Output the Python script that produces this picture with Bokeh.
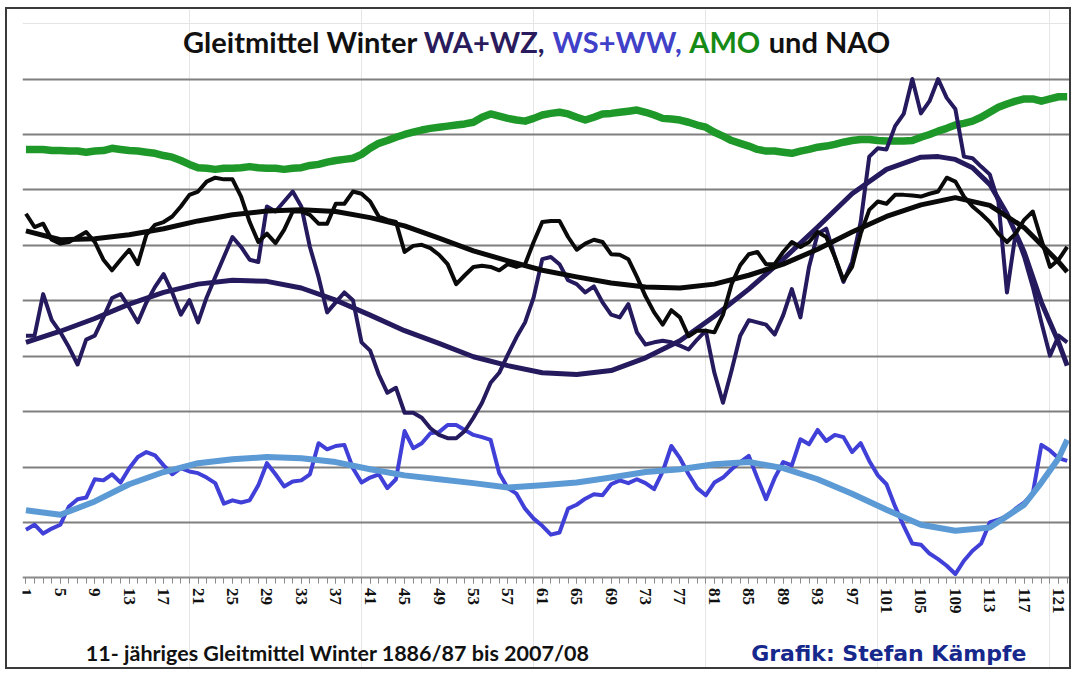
from bokeh.plotting import figure
from bokeh.models import Range1d, FixedTicker, Label, Grid, LinearAxis
from bokeh.embed import file_html
from bokeh.resources import INLINE

# ---------------- data ----------------
winters = list(range(1, 123))          # 11-year moving average index 1 .. 122
tick_values = list(range(1, 123, 4))   # labelled ticks 1, 5, ..., 121
grid_levels = [1, 2, 3, 4, 5, 6, 7, 8, 9]

amo = [7.73, 7.73, 7.73, 7.71, 7.71, 7.70, 7.70, 7.68, 7.70, 7.71,
       7.75, 7.73, 7.71, 7.70, 7.68, 7.66, 7.62, 7.59, 7.53, 7.46,
       7.40, 7.39, 7.37, 7.39, 7.39, 7.40, 7.42, 7.40, 7.39, 7.39,
       7.37, 7.39, 7.40, 7.44, 7.46, 7.50, 7.53, 7.55, 7.57, 7.64,
       7.75, 7.84, 7.89, 7.95, 8.00, 8.04, 8.08, 8.11, 8.13, 8.15,
       8.17, 8.19, 8.22, 8.31, 8.37, 8.33, 8.29, 8.26, 8.24, 8.29,
       8.35, 8.38, 8.40, 8.37, 8.31, 8.26, 8.31, 8.37, 8.38, 8.40,
       8.42, 8.44, 8.40, 8.35, 8.29, 8.28, 8.26, 8.22, 8.17, 8.13,
       8.04, 7.97, 7.89, 7.84, 7.79, 7.73, 7.70, 7.70, 7.68, 7.66,
       7.70, 7.73, 7.77, 7.79, 7.82, 7.86, 7.89, 7.91, 7.91, 7.89,
       7.88, 7.88, 7.88, 7.89, 7.95, 8.00, 8.06, 8.11, 8.17, 8.20,
       8.24, 8.31, 8.40, 8.49, 8.55, 8.60, 8.64, 8.64, 8.60, 8.64,
       8.68, 8.68]

nao = [6.57, 6.33, 6.39, 6.10, 6.03, 6.06, 6.15, 6.24, 6.06, 5.74,
       5.55, 5.74, 5.92, 5.66, 6.19, 6.37, 6.42, 6.52, 6.70, 6.91,
       6.97, 7.15, 7.22, 7.19, 7.19, 6.88, 6.42, 6.06, 6.21, 6.04,
       6.28, 6.61, 6.61, 6.55, 6.39, 6.39, 6.75, 6.75, 6.97, 6.93,
       6.79, 6.52, 6.46, 6.42, 5.88, 5.99, 6.01, 5.95, 5.83, 5.66,
       5.30, 5.46, 5.61, 5.63, 5.61, 5.55, 5.66, 5.61, 5.66, 6.06,
       6.42, 6.44, 6.44, 6.15, 5.92, 6.03, 6.10, 6.06, 5.84, 5.83,
       5.75, 5.43, 5.08, 4.79, 4.57, 4.83, 4.70, 4.36, 4.46, 4.46,
       4.43, 4.75, 5.30, 5.64, 5.84, 5.88, 5.66, 5.66, 5.88, 6.06,
       5.97, 6.06, 6.24, 6.15, 5.79, 5.37, 5.61, 6.21, 6.64, 6.79,
       6.75, 6.91, 6.91, 6.90, 6.88, 6.93, 6.97, 7.22, 7.15, 6.88,
       6.70, 6.57, 6.42, 6.21, 6.06, 6.21, 6.46, 6.61, 6.10, 5.61,
       5.74, 5.97]

wa_wz = [4.37, 4.37, 5.12, 4.65, 4.43, 4.16, 3.85, 4.30, 4.37, 4.70,
         5.05, 5.12, 4.88, 4.61, 4.97, 5.25, 5.48, 5.15, 4.75, 5.01,
         4.61, 5.06, 5.43, 5.79, 6.15, 5.97, 5.74, 5.70, 6.70, 6.61,
         6.79, 6.97, 6.70, 5.97, 5.43, 4.79, 4.97, 5.15, 5.01, 4.25,
         4.10, 3.67, 3.34, 3.43, 2.98, 2.98, 2.89, 2.70, 2.58, 2.52,
         2.52, 2.65, 2.89, 3.16, 3.52, 3.70, 4.03, 4.34, 4.61, 5.06,
         5.75, 5.79, 5.66, 5.37, 5.30, 5.15, 5.26, 4.97, 4.75, 4.70,
         4.94, 4.43, 4.21, 4.25, 4.28, 4.25, 4.19, 4.12, 4.30, 4.46,
         3.70, 3.16, 3.74, 4.37, 4.65, 4.61, 4.57, 4.39, 4.74, 5.21,
         4.70, 5.61, 6.21, 6.30, 5.79, 5.34, 5.70, 6.42, 7.60, 7.75,
         7.73, 8.15, 8.37, 9.00, 8.38, 8.60, 9.00, 8.66, 8.46, 7.60,
         7.57, 7.42, 7.28, 6.79, 5.15, 6.21, 5.79, 5.25, 4.61, 4.01,
         4.37, 4.25]

ws_ww = [0.87, 0.96, 0.80, 0.89, 0.96, 1.29, 1.42, 1.45, 1.78, 1.76,
         1.87, 1.72, 1.98, 2.18, 2.27, 2.21, 2.03, 1.87, 1.98, 1.92,
         1.89, 1.81, 1.71, 1.34, 1.40, 1.36, 1.40, 1.67, 2.07, 1.87,
         1.65, 1.74, 1.76, 1.87, 2.43, 2.32, 2.38, 2.40, 1.98, 1.72,
         1.81, 1.87, 1.62, 1.78, 2.65, 2.34, 2.43, 2.61, 2.63, 2.76,
         2.76, 2.67, 2.58, 2.54, 2.49, 1.89, 1.62, 1.52, 1.25, 1.07,
         0.94, 0.78, 0.82, 1.25, 1.32, 1.43, 1.51, 1.49, 1.69, 1.76,
         1.71, 1.78, 1.71, 1.60, 1.92, 2.38, 2.16, 1.87, 1.62, 1.49,
         1.72, 1.81, 1.96, 2.09, 2.20, 1.80, 1.42, 1.80, 2.09, 2.03,
         2.50, 2.41, 2.67, 2.47, 2.58, 2.54, 2.27, 2.43, 2.11, 1.85,
         1.69, 1.29, 0.94, 0.62, 0.60, 0.44, 0.34, 0.22, 0.07, 0.31,
         0.49, 0.62, 1.00, 1.05, 1.11, 1.25, 1.36, 1.52, 2.40, 2.30,
         2.16, 2.11]

# polynomial trend curves
nao_trend_x = list(range(1, 122, 4)) + [122]
nao_trend = [6.26, 6.10, 6.12, 6.19, 6.30, 6.44, 6.55, 6.62, 6.64, 6.61,
             6.50, 6.35, 6.13, 5.90, 5.72, 5.55, 5.43, 5.32, 5.25, 5.23,
             5.30, 5.46, 5.66, 5.93, 6.24, 6.52, 6.73, 6.86, 6.72, 6.32,
             5.70, 5.52]

wa_wz_trend_x = list(range(1, 106, 4)) + [107, 109, 111, 113, 115, 117, 119, 121, 122]
wa_wz_trend = [4.25, 4.45, 4.68, 4.94, 5.15, 5.30, 5.37, 5.35, 5.23, 5.01,
               4.74, 4.46, 4.23, 3.99, 3.83, 3.70, 3.67, 3.74, 3.97, 4.28,
               4.72, 5.21, 5.75, 6.33, 6.93, 7.37, 7.59, 7.60, 7.55, 7.40,
               7.10, 6.57, 5.88, 4.97, 4.25, 3.83]

ws_ww_trend_x = list(range(1, 118, 4)) + [119, 121, 122]
ws_ww_trend = [1.22, 1.14, 1.38, 1.69, 1.91, 2.07, 2.14, 2.18, 2.16, 2.09,
               1.96, 1.85, 1.78, 1.71, 1.63, 1.67, 1.72, 1.81, 1.91, 1.96,
               2.05, 2.09, 1.98, 1.78, 1.52, 1.23, 0.96, 0.85, 0.91, 1.32,
               1.72, 2.16, 2.49]

# ---------------- figure ----------------
# The frame spans the full height; the category axis sits at value 0 inside it,
# so the title and the footer texts can live inside the frame as well.
p = figure(width=1066, height=662, output_backend="svg", toolbar_location=None,
           x_range=Range1d(0.6, 122.5), y_range=Range1d(-1.688, 10.254),
           x_axis_location=None, y_axis_location=None,
           min_border_left=15, min_border_right=2, min_border_top=0, min_border_bottom=0)
p.outline_line_color = None
p.background_fill_color = "white"
p.border_fill_color = "white"
p.styles = {"border": "2px solid #3a3a3a", "margin-left": "5px", "margin-top": "7px"}

p.add_layout(Grid(dimension=1, ticker=FixedTicker(ticks=grid_levels),
                  grid_line_color="#7f7f7f", grid_line_width=2))

ax = LinearAxis(fixed_location=0)
ax.ticker = FixedTicker(ticks=tick_values, minor_ticks=winters)
ax.axis_line_color = "#8a8a8a"
ax.axis_line_width = 2
ax.major_tick_line_color = "#8a8a8a"
ax.minor_tick_line_color = "#8a8a8a"
ax.major_tick_in = 0
ax.major_tick_out = 6
ax.minor_tick_in = 0
ax.minor_tick_out = 6
ax.major_label_orientation = "vertical"
ax.major_label_standoff = 4
ax.major_label_text_font = "Liberation Serif"
ax.major_label_text_font_style = "bold"
ax.major_label_text_font_size = "17px"
ax.major_label_text_color = "#111111"
p.add_layout(ax, "below")

# ---------------- series ----------------
green = "#1f982a"
purple = "#261a5e"
blue = "#4040d8"
lightblue = "#5b9ad4"

p.line(winters, amo, line_color=green, line_width=7.5, line_join="round")
p.line(winters, ws_ww, line_color=blue, line_width=4, line_join="round")
p.line(ws_ww_trend_x, ws_ww_trend, line_color=lightblue, line_width=6, line_join="round")
p.line(winters, wa_wz, line_color=purple, line_width=4, line_join="round")
p.line(wa_wz_trend_x, wa_wz_trend, line_color=purple, line_width=5, line_join="round")
p.line(winters, nao, line_color="#0a0a0a", line_width=4, line_join="round")
p.line(nao_trend_x, nao_trend, line_color="#0a0a0a", line_width=5, line_join="round")

# ---------------- texts ----------------
title_parts = [
    ("Gleitmittel Winter", "#111111", 19.26),
    ("WA+WZ,", "#2a1b5c", 47.23),
    ("WS+WW,", "#4040c8", 62.20),
    ("AMO", "#168a16", 78.08),
    ("und NAO", "#111111", 87.31),
]
for txt, col, xpos in title_parts:
    p.add_layout(Label(x=xpos, y=9.67, text=txt, text_color=col,
                       text_font="Lato", text_font_style="bold", text_font_size="29px",
                       text_align="left", text_baseline="middle"))

p.add_layout(Label(x=7.96, y=-1.361, text="11- jähriges Gleitmittel Winter 1886/87 bis 2007/08",
                   text_color="#111111", text_font="Lato", text_font_style="bold",
                   text_font_size="21.5px", text_align="left", text_baseline="middle"))
p.add_layout(Label(x=85.28, y=-1.361, text="Grafik: Stefan Kämpfe",
                   text_color="#17288c", text_font="DejaVu Sans", text_font_style="bold",
                   text_font_size="22px", text_align="left", text_baseline="middle"))

open("out.html", "w").write(file_html(p, INLINE))
